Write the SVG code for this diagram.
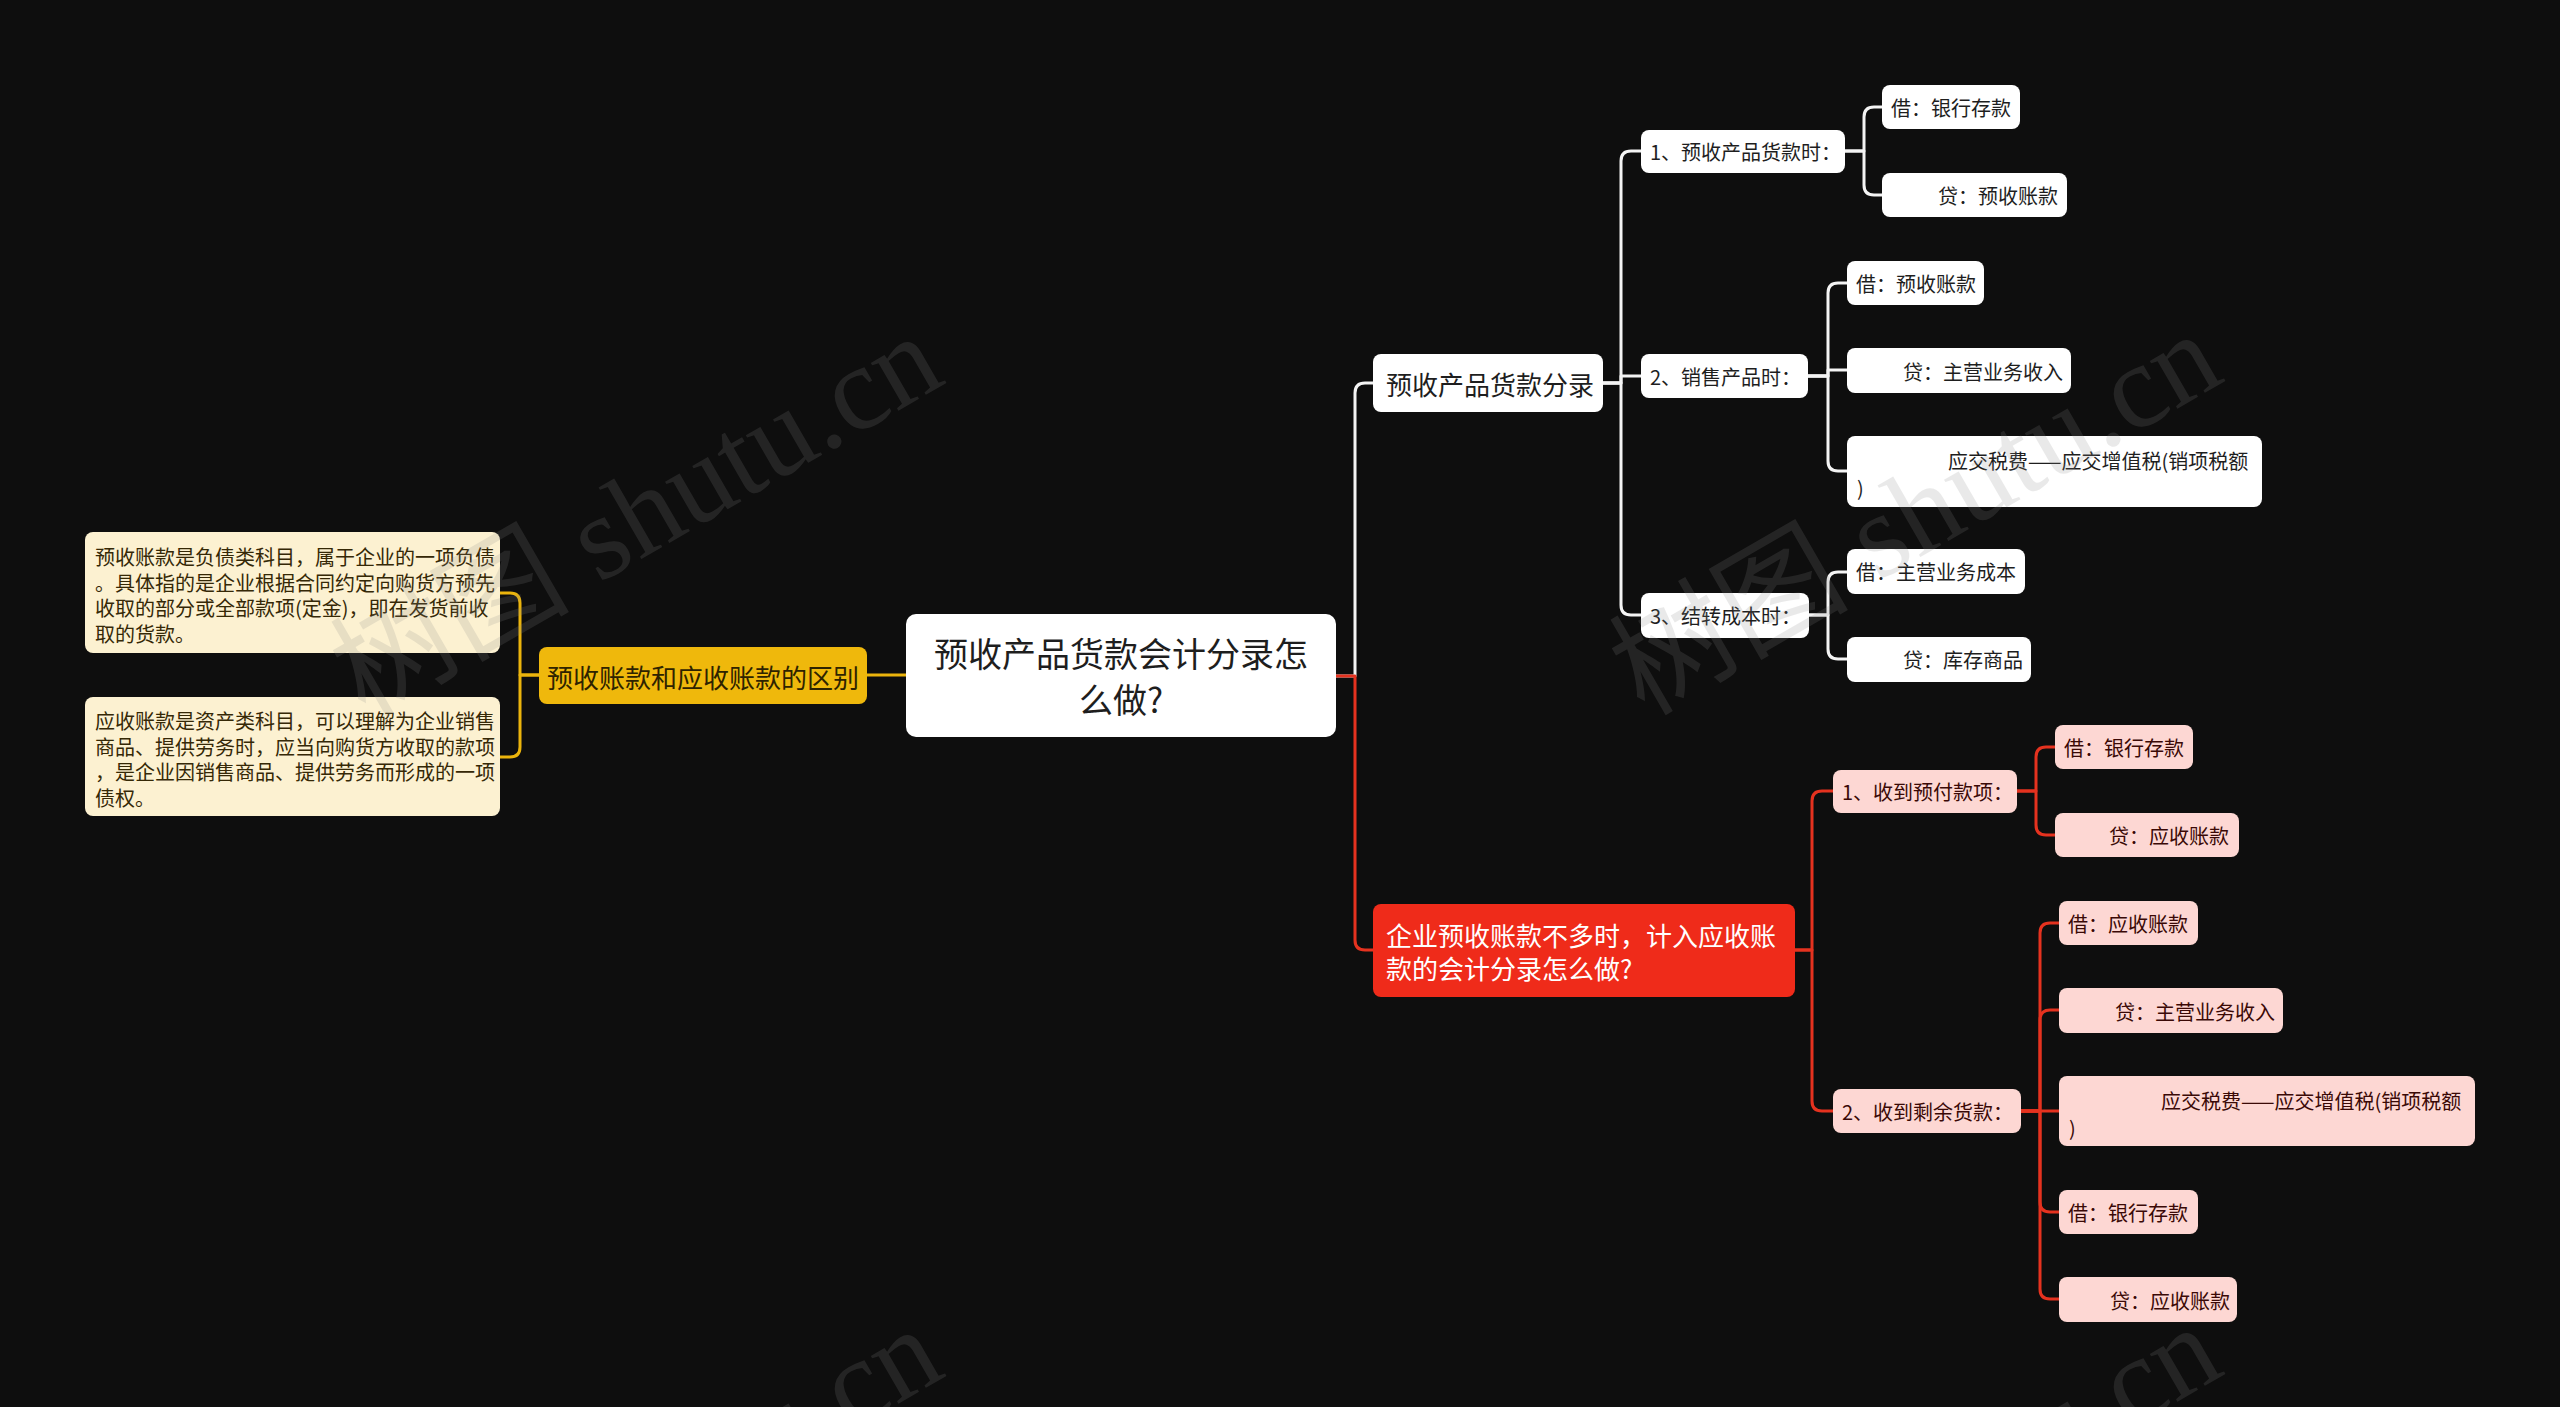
<svg xmlns="http://www.w3.org/2000/svg" width="2560" height="1407" viewBox="0 0 2560 1407">
<style>
text{font-family:"Noto Sans CJK SC","Noto Sans",sans-serif}
.w rect{fill:#FFFFFF}
.w text{fill:#1e1e1e}
.p rect{fill:#FDD7D3}
.p text{fill:#3a0906}
.n rect{fill:#FCF1D1}
.n text{fill:#352806}
.s20{font-size:20px}
.s26{font-size:26px}
.cw{fill:none;stroke:#F4F4F4;stroke-width:3;stroke-linejoin:round}
.cr{fill:none;stroke:#E5321F;stroke-width:3;stroke-linejoin:round}
.cy{fill:none;stroke:#EBB40C;stroke-width:3;stroke-linejoin:round}
.wm{font-family:"Liberation Serif","Noto Sans CJK SC",serif;font-size:120px;fill:#8a8a8a;opacity:0.18}
</style>
<rect width="2560" height="1407" fill="#0E0E0E"/>

<g id="connectors">
  <path class="cy" d="M906,675 H867"/>
  <path class="cy" d="M539,675 H520 V603 Q520,593 510,593 H500"/>
  <path class="cy" d="M539,675 H520 V747 Q520,757 510,757 H500"/>

  <path class="cw" d="M1336,676 H1355 V393 Q1355,383 1365,383 H1373"/>
  <path class="cw" d="M1603,383 H1621 V161 Q1621,151 1631,151 H1641"/>
  <path class="cw" d="M1603,383 H1621 V376 H1641"/>
  <path class="cw" d="M1603,383 H1621 V605 Q1621,615 1631,615 H1641"/>
  <path class="cw" d="M1845,151 H1864 V117 Q1864,107 1874,107 H1882"/>
  <path class="cw" d="M1845,151 H1864 V185 Q1864,195 1874,195 H1882"/>
  <path class="cw" d="M1808,376 H1828 V293 Q1828,283 1838,283 H1847"/>
  <path class="cw" d="M1808,376 H1828 V370 H1847"/>
  <path class="cw" d="M1808,376 H1828 V461 Q1828,471 1838,471 H1847"/>
  <path class="cw" d="M1809,615 H1828 V582 Q1828,572 1838,572 H1847"/>
  <path class="cw" d="M1809,615 H1828 V649 Q1828,659 1838,659 H1847"/>

  <path class="cr" d="M1336,676 H1355 V940 Q1355,950 1365,950 H1373"/>
  <path class="cr" d="M1795,950 H1812 V801 Q1812,791 1822,791 H1833"/>
  <path class="cr" d="M1795,950 H1812 V1101 Q1812,1111 1822,1111 H1833"/>
  <path class="cr" d="M2017,791 H2036 V757 Q2036,747 2046,747 H2055"/>
  <path class="cr" d="M2017,791 H2036 V825 Q2036,835 2046,835 H2055"/>
  <path class="cr" d="M2021,1111 H2040 V933 Q2040,923 2050,923 H2059"/>
  <path class="cr" d="M2021,1111 H2040 V1020 Q2040,1010 2050,1010 H2059"/>
  <path class="cr" d="M2021,1111 H2059"/>
  <path class="cr" d="M2021,1111 H2040 V1202 Q2040,1212 2050,1212 H2059"/>
  <path class="cr" d="M2021,1111 H2040 V1289 Q2040,1299 2050,1299 H2059"/>
</g>

<g id="root" class="w">
  <rect x="906" y="614" width="430" height="123" rx="10"/>
  <text x="1121" y="667" text-anchor="middle" font-size="34">预收产品货款会计分录怎</text>
  <text x="1121" y="713" text-anchor="middle" font-size="34">么做?</text>
</g>

<g id="n-diff">
  <rect x="539" y="647" width="328" height="57" rx="8" fill="#EFB80C"/>
  <text x="703" y="688" text-anchor="middle" class="s26" fill="#2e2300">预收账款和应收账款的区别</text>
</g>
<g id="n-note1" class="n">
  <rect x="85" y="532" width="415" height="121" rx="8"/>
  <text class="s20" x="95" y="565">预收账款是负债类科目，属于企业的一项负债</text>
  <text class="s20" x="95" y="591">。具体指的是企业根据合同约定向购货方预先</text>
  <text class="s20" x="95" y="616">收取的部分或全部款项(定金)，即在发货前收</text>
  <text class="s20" x="95" y="642">取的货款。</text>
</g>
<g id="n-note2" class="n">
  <rect x="85" y="697" width="415" height="119" rx="8"/>
  <text class="s20" x="95" y="729">应收账款是资产类科目，可以理解为企业销售</text>
  <text class="s20" x="95" y="755">商品、提供劳务时，应当向购货方收取的款项</text>
  <text class="s20" x="95" y="780">，是企业因销售商品、提供劳务而形成的一项</text>
  <text class="s20" x="95" y="806">债权。</text>
</g>

<g id="n-entry" class="w">
  <rect x="1373" y="354" width="230" height="58" rx="8"/>
  <text class="s26" x="1386" y="395">预收产品货款分录</text>
</g>
<g id="n-e1" class="w">
  <rect x="1641" y="130" width="204" height="43" rx="8"/>
  <text class="s20" x="1650" y="160">1、预收产品货款时：</text>
</g>
<g id="n-e1a" class="w">
  <rect x="1882" y="85" width="138" height="44" rx="8"/>
  <text class="s20" x="1891" y="116">借：银行存款</text>
</g>
<g id="n-e1b" class="w">
  <rect x="1882" y="173" width="185" height="44" rx="8"/>
  <text class="s20" x="1938" y="204">贷：预收账款</text>
</g>
<g id="n-e2" class="w">
  <rect x="1641" y="354" width="167" height="44" rx="8"/>
  <text class="s20" x="1650" y="385">2、销售产品时：</text>
</g>
<g id="n-e2a" class="w">
  <rect x="1847" y="261" width="137" height="44" rx="8"/>
  <text class="s20" x="1856" y="292">借：预收账款</text>
</g>
<g id="n-e2b" class="w">
  <rect x="1847" y="348" width="224" height="45" rx="8"/>
  <text class="s20" x="1903" y="380">贷：主营业务收入</text>
</g>
<g id="n-e2c" class="w">
  <rect x="1847" y="436" width="415" height="71" rx="8"/>
  <text class="s20" x="1948" y="469">应交税费——应交增值税(销项税额</text>
  <text class="s20" x="1857" y="496">)</text>
</g>
<g id="n-e3" class="w">
  <rect x="1641" y="593" width="168" height="45" rx="8"/>
  <text class="s20" x="1650" y="624">3、结转成本时：</text>
</g>
<g id="n-e3a" class="w">
  <rect x="1847" y="549" width="178" height="45" rx="8"/>
  <text class="s20" x="1856" y="580">借：主营业务成本</text>
</g>
<g id="n-e3b" class="w">
  <rect x="1847" y="637" width="184" height="45" rx="8"/>
  <text class="s20" x="1903" y="668">贷：库存商品</text>
</g>

<g id="n-ar">
  <rect x="1373" y="904" width="422" height="93" rx="8" fill="#EF2B1A"/>
  <text class="s26" x="1386" y="946" fill="#FFFFFF">企业预收账款不多时，计入应收账</text>
  <text class="s26" x="1386" y="979" fill="#FFFFFF">款的会计分录怎么做?</text>
</g>
<g id="n-r1" class="p">
  <rect x="1833" y="770" width="184" height="43" rx="8"/>
  <text class="s20" x="1842" y="800">1、收到预付款项：</text>
</g>
<g id="n-r1a" class="p">
  <rect x="2055" y="725" width="138" height="44" rx="8"/>
  <text class="s20" x="2064" y="756">借：银行存款</text>
</g>
<g id="n-r1b" class="p">
  <rect x="2055" y="813" width="184" height="44" rx="8"/>
  <text class="s20" x="2109" y="844">贷：应收账款</text>
</g>
<g id="n-r2" class="p">
  <rect x="1833" y="1089" width="188" height="44" rx="8"/>
  <text class="s20" x="1842" y="1120">2、收到剩余货款：</text>
</g>
<g id="n-r2a" class="p">
  <rect x="2059" y="901" width="139" height="44" rx="8"/>
  <text class="s20" x="2068" y="932">借：应收账款</text>
</g>
<g id="n-r2b" class="p">
  <rect x="2059" y="988" width="224" height="45" rx="8"/>
  <text class="s20" x="2115" y="1020">贷：主营业务收入</text>
</g>
<g id="n-r2c" class="p">
  <rect x="2059" y="1076" width="416" height="70" rx="8"/>
  <text class="s20" x="2161" y="1109">应交税费——应交增值税(销项税额</text>
  <text class="s20" x="2069" y="1136">)</text>
</g>
<g id="n-r2d" class="p">
  <rect x="2059" y="1190" width="139" height="44" rx="8"/>
  <text class="s20" x="2068" y="1221">借：银行存款</text>
</g>
<g id="n-r2e" class="p">
  <rect x="2059" y="1277" width="178" height="45" rx="8"/>
  <text class="s20" x="2110" y="1309">贷：应收账款</text>
</g>

<g id="watermark">
  <text class="wm" text-anchor="end" transform="translate(948,382) rotate(-30)">树图 shutu.cn</text>
  <text class="wm" text-anchor="end" transform="translate(2227,380) rotate(-30)">树图 shutu.cn</text>
  <text class="wm" text-anchor="end" transform="translate(948,1375) rotate(-30)">树图 shutu.cn</text>
  <text class="wm" text-anchor="end" transform="translate(2227,1373) rotate(-30)">树图 shutu.cn</text>
</g>
</svg>
